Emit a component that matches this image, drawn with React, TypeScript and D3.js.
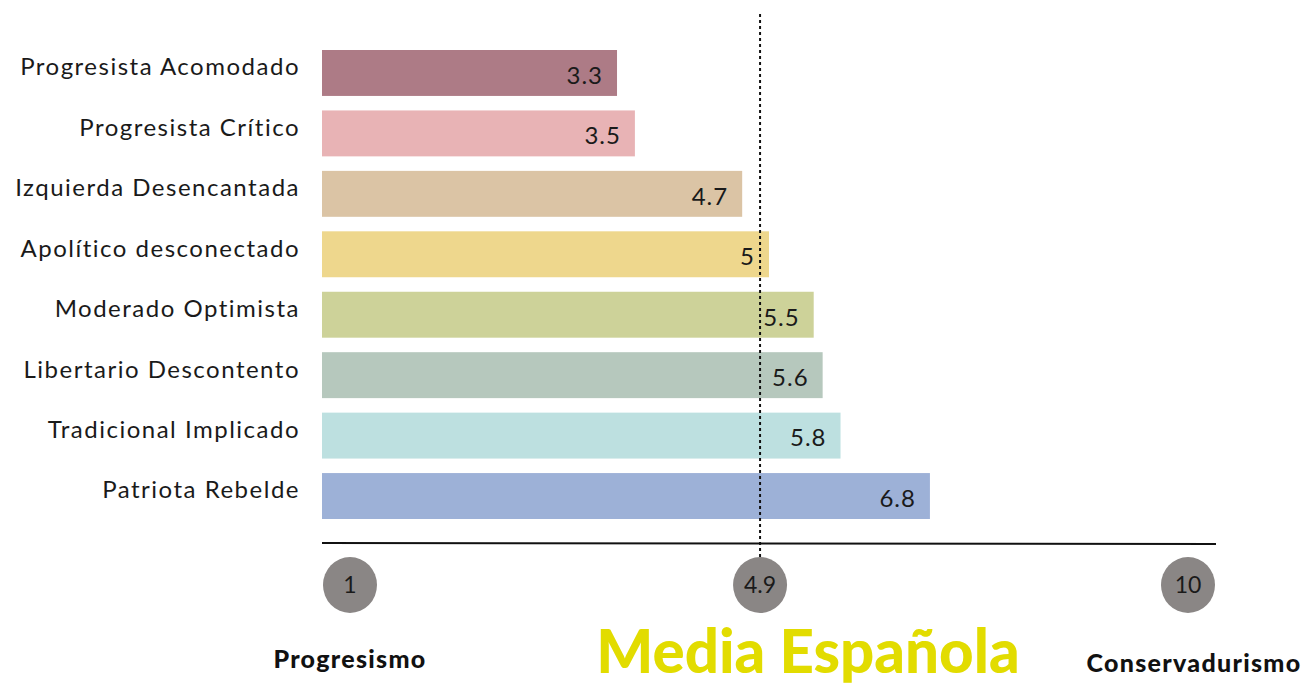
import React, { useEffect, useRef } from "react";
import * as d3 from "d3";

const categories = [
  "Progresista Acomodado",
  "Progresista Crítico",
  "Izquierda Desencantada",
  "Apolítico desconectado",
  "Moderado Optimista",
  "Libertario Descontento",
  "Tradicional Implicado",
  "Patriota Rebelde",
];
const values = [3.3, 3.5, 4.7, 5, 5.5, 5.6, 5.8, 6.8];
const barColors = [
  "#ad7b86",
  "#e8b3b5",
  "#dbc4a5",
  "#eed78d",
  "#cdd299",
  "#b6c8bd",
  "#bde0e0",
  "#9db1d7",
];
const spainMean = 4.9;
const scaleMin = 1;
const scaleMax = 10;

const width = 1307;
const height = 686;
const font = "Lato, 'Open Sans', sans-serif";

export default function App() {
  const svgRef = useRef<SVGSVGElement>(null);

  useEffect(() => {
    const svg = d3.select(svgRef.current);
    svg.selectAll("*").remove();

    // bars run from 0, the axis line spans 0..10
    const x = d3.scaleLinear().domain([0, scaleMax]).range([322, 1216]);
    const y = d3
      .scaleBand<string>()
      .domain(categories)
      .range([50, 519])
      .paddingInner(0.24)
      .paddingOuter(0);

    const rows = categories.map((c, i) => ({ name: c, value: values[i], color: barColors[i] }));

    svg
      .selectAll(".bar")
      .data(rows)
      .join("rect")
      .attr("class", "bar")
      .attr("x", x(0))
      .attr("y", (d) => y(d.name)!)
      .attr("width", (d) => x(d.value) - x(0))
      .attr("height", y.bandwidth())
      .attr("fill", (d) => d.color);

    svg
      .selectAll(".cat")
      .data(rows)
      .join("text")
      .attr("class", "cat")
      .attr("x", x(0) - 22)
      .attr("y", (d) => y(d.name)! + y.bandwidth() / 2)
      .attr("dy", "0.1em")
      .attr("text-anchor", "end")
      .attr("font-family", font)
      .attr("font-size", 24)
      .attr("letter-spacing", 1.5)
      .attr("fill", "#1a1a1a")
      .text((d) => d.name);

    svg
      .selectAll(".val")
      .data(rows)
      .join("text")
      .attr("class", "val")
      .attr("x", (d) => x(d.value) - 14)
      .attr("y", (d) => y(d.name)! + y.bandwidth() / 2)
      .attr("dy", "0.45em")
      .attr("text-anchor", "end")
      .attr("font-family", font)
      .attr("font-size", 24)
      .attr("letter-spacing", 1)
      .attr("fill", "#1a1a1a")
      .text((d) => String(d.value));

    // axis line
    svg
      .append("line")
      .attr("x1", x(0))
      .attr("x2", x(scaleMax))
      .attr("y1", 543)
      .attr("y2", 544)
      .attr("stroke", "#111")
      .attr("stroke-width", 2);

    // mean line
    svg
      .append("line")
      .attr("x1", x(spainMean))
      .attr("x2", x(spainMean))
      .attr("y1", 14)
      .attr("y2", 560)
      .attr("stroke", "#111")
      .attr("stroke-width", 2)
      .attr("stroke-dasharray", "3,3");

    const r = 27;
    const marks = [
      { label: String(scaleMin), cx: x(0) + r + 1 },
      { label: String(spainMean), cx: x(spainMean) },
      { label: String(scaleMax), cx: x(scaleMax) - r - 1 },
    ];
    const g = svg.selectAll(".mark").data(marks).join("g").attr("class", "mark");
    g.append("ellipse")
      .attr("cx", (d) => d.cx)
      .attr("cy", 585)
      .attr("rx", r)
      .attr("ry", r + 1)
      .attr("fill", "#8a8685");
    g.append("text")
      .attr("x", (d) => d.cx)
      .attr("y", 585)
      .attr("dy", "0.36em")
      .attr("text-anchor", "middle")
      .attr("font-family", font)
      .attr("font-size", 23)
      .attr("fill", "#1a1a1a")
      .text((d) => d.label);

    svg
      .append("text")
      .attr("x", 350)
      .attr("y", 668)
      .attr("text-anchor", "middle")
      .attr("font-family", font)
      .attr("font-weight", 900)
      .attr("font-size", 25)
      .attr("letter-spacing", 1.3)
      .attr("fill", "#111")
      .text("Progresismo");

    svg
      .append("text")
      .attr("x", 1194)
      .attr("y", 672)
      .attr("text-anchor", "middle")
      .attr("font-family", font)
      .attr("font-weight", 900)
      .attr("font-size", 25)
      .attr("letter-spacing", 1.3)
      .attr("fill", "#111")
      .text("Conservadurismo");

    svg
      .append("text")
      .attr("x", 808)
      .attr("y", 673)
      .attr("text-anchor", "middle")
      .attr("font-family", font)
      .attr("font-weight", 900)
      .attr("font-size", 60)
      .attr("fill", "#e2dc00")
      .text("Media Española");
  }, []);

  return (
    <svg
      ref={svgRef}
      width={width}
      height={height}
      style={{ position: "absolute", left: 0, top: 0, background: "#fff" }}
    />
  );
}
